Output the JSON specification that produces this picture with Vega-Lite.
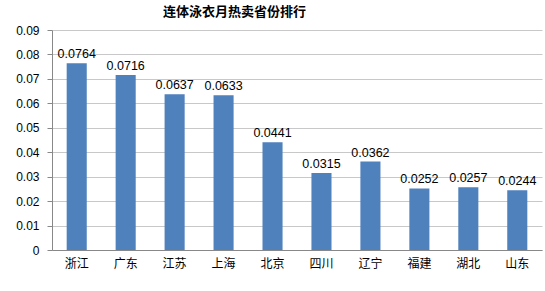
{
  "$schema": "https://vega.github.io/schema/vega-lite/v6.json",
  "width": 490,
  "height": 220,
  "autosize": {"type": "none"},
  "padding": {"left": 52, "top": 30, "right": 3, "bottom": 41},
  "background": "white",
  "title": {
    "text": "连体泳衣月热卖省份排行",
    "font": "Noto Sans CJK SC",
    "fontSize": 13,
    "fontWeight": "bold",
    "color": "#000000",
    "anchor": "start",
    "frame": "group",
    "dx": 111,
    "offset": 5
  },
  "data": {
    "values": [
      {"province": "浙江", "value": 0.0764},
      {"province": "广东", "value": 0.0716},
      {"province": "江苏", "value": 0.0637},
      {"province": "上海", "value": 0.0633},
      {"province": "北京", "value": 0.0441},
      {"province": "四川", "value": 0.0315},
      {"province": "辽宁", "value": 0.0362},
      {"province": "福建", "value": 0.0252},
      {"province": "湖北", "value": 0.0257},
      {"province": "山东", "value": 0.0244}
    ]
  },
  "encoding": {
    "x": {
      "field": "province",
      "type": "nominal",
      "sort": null,
      "scale": {"paddingInner": 0.59, "paddingOuter": 0.3},
      "axis": {
        "title": null,
        "labelAngle": 0,
        "labelFont": "Noto Sans CJK SC",
        "labelFontSize": 12,
        "labelColor": "#000000",
        "labelPadding": 8,
        "domainColor": "#888888",
        "ticks": false
      }
    },
    "y": {
      "field": "value",
      "type": "quantitative",
      "scale": {"domain": [0, 0.09], "nice": false},
      "axis": {
        "title": null,
        "values": [0, 0.01, 0.02, 0.03, 0.04, 0.05, 0.06, 0.07, 0.08, 0.09],
        "format": ".2~f",
        "labelFont": "Liberation Sans",
        "labelFontSize": 12,
        "labelColor": "#000000",
        "labelPadding": 8,
        "domainColor": "#888888",
        "tickColor": "#888888",
        "tickSize": 5,
        "gridColor": "#c8c8c8",
        "grid": true
      }
    }
  },
  "layer": [
    {"mark": {"type": "bar", "color": "#4F81BD"}},
    {
      "mark": {"type": "text", "dy": -9, "font": "Liberation Sans", "fontSize": 12.5, "color": "#000000"},
      "encoding": {"text": {"field": "value", "type": "quantitative", "format": ".4f"}}
    }
  ],
  "config": {"view": {"stroke": null}}
}
